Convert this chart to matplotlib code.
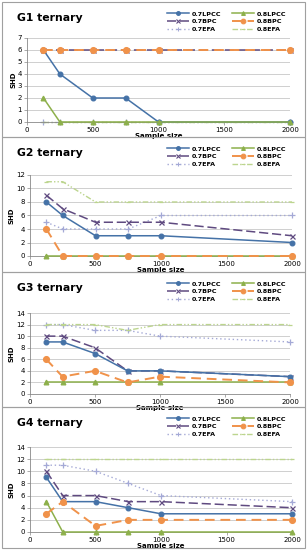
import matplotlib.pyplot as plt
from matplotlib.patches import Rectangle
from matplotlib.lines import Line2D

W, H = 307, 550

sizes = [125, 250, 500, 750, 1000, 2000]
series_names = ["0.7LPCC", "0.8LPCC", "0.7BPC", "0.8BPC", "0.7EFA", "0.8EFA"]
titles = ["G1 ternary", "G2 ternary", "G3 ternary", "G4 ternary"]

g1 = [[6, 4, 2, 2, 0, 0], [2, 0, 0, 0, 0, 0], [6, 6, 6, 6, 6, 6],
      [6, 6, 6, 6, 6, 6], [0, 0, 0, 0, 0, 0], [0, 0, 0, 0, 0, 0]]
g2 = [[8, 6, 3, 3, 3, 2], [0, 0, 0, 0, 0, 0], [9, 7, 5, 5, 5, 3],
      [4, 0, 0, 0, 0, 0], [5, 4, 4, 4, 6, 6], [11, 11, 8, 8, 8, 8]]
g3 = [[9, 9, 7, 4, 4, 3], [2, 2, 2, 2, 2, 2], [10, 10, 8, 4, 4, 3],
      [6, 3, 4, 2, 3, 2], [12, 12, 11, 11, 10, 9], [12, 12, 12, 11, 12, 12]]
g4 = [[9, 5, 5, 4, 3, 3], [5, 0, 0, 0, 0, 0], [10, 6, 6, 5, 5, 4],
      [3, 5, 1, 2, 2, 2], [11, 11, 10, 8, 6, 5], [12, 12, 12, 12, 12, 12]]
data = [g1, g2, g3, g4]
ymax = [7, 12, 14, 14]

# style per series: color, linestyle, marker, markersize, linewidth, zorder
styles = [
    ("#4572A7", "-", "o", 3.4, 1.1, 4),
    ("#8DB04B", "-", "^", 3.4, 1.1, 4),
    ("#5F4A80", (0, (6, 2.5)), "x", 3.6, 1.1, 3),
    ("#F0924A", (0, (5, 3)), "o", 4.2, 1.4, 5),
    ("#A4A9D6", (0, (1, 2)), "+", 4.2, 1.0, 2.5),
    ("#BCD58E", (0, (4, 1.5, 1, 1.5, 1, 1.5)), "_", 3.0, 1.0, 2.5),
]

# panel frames and axes boxes in pixels (left, top, right, bottom)
panels = [(2, 2, 305, 137), (2, 137, 305, 272), (2, 272, 305, 407), (2, 407, 305, 548)]
axboxes = [(27, 38, 290, 122), (30, 175, 292, 256), (30, 313, 290, 394), (30, 447, 292, 532)]

fig = plt.figure(figsize=(W / 100, H / 100), dpi=100)
fig.patch.set_facecolor("white")


def fx(x):
    return x / W


def fy(y):
    return 1 - y / H


# legend fills column by column, so reorder to get the row layout
order = [0, 2, 4, 1, 3, 5]

for i in range(4):
    pl, pt, pr, pb = panels[i]
    fig.patches.append(Rectangle((fx(pl), fy(pb)), fx(pr - pl), (pb - pt) / H,
                                 transform=fig.transFigure, fill=False,
                                 edgecolor="#A0A0A0", linewidth=0.8))
    l, t, r, b = axboxes[i]
    ax = fig.add_axes([fx(l), fy(b), fx(r - l), (b - t) / H])
    for j, vals in enumerate(data[i]):
        c, ls, m, ms, lw, z = styles[j]
        ax.plot(sizes, vals, color=c, linestyle=ls, marker=m, markersize=ms,
                linewidth=lw, markeredgewidth=0.9, clip_on=False, zorder=z)
    ax.set_xlim(0, 2000)
    ax.set_ylim(0, ymax[i])
    ax.set_xticks([0, 500, 1000, 1500, 2000])
    step = 1 if ymax[i] == 7 else 2
    ax.set_yticks(range(0, ymax[i] + 1, step))
    ax.grid(axis="y", color="#C8C8C8", linewidth=0.6)
    ax.set_axisbelow(True)
    for s in ["top", "right"]:
        ax.spines[s].set_visible(False)
    for s in ["left", "bottom"]:
        ax.spines[s].set_color("#888888")
        ax.spines[s].set_linewidth(0.6)
    ax.tick_params(labelsize=5, length=2, width=0.5, color="#888888", pad=1.5)
    ax.set_xlabel("Sample size", fontsize=5, fontweight="bold", labelpad=0)
    ax.set_ylabel("SHD", fontsize=5, fontweight="bold", labelpad=1)

    fig.text(fx(pl + 15), fy(pt + 16), titles[i], fontsize=7.8, fontweight="bold",
             va="center", ha="left")

    handles = []
    for j in order:
        c, ls, m, ms, lw, z = styles[j]
        handles.append(Line2D([], [], color=c, linestyle=ls, marker=m, markersize=ms * 0.8,
                              linewidth=lw, markeredgewidth=0.8))
    fig.legend(handles, [series_names[j] for j in order], loc="upper left",
               bbox_to_anchor=(fx(164), fy(pt + 6)), ncol=2,
               frameon=False, handlelength=3.4, handletextpad=0.4,
               columnspacing=1.8, labelspacing=0.35, borderpad=0,
               prop={"size": 4.6, "weight": "bold"})

fig.savefig("out.png", dpi=100)
